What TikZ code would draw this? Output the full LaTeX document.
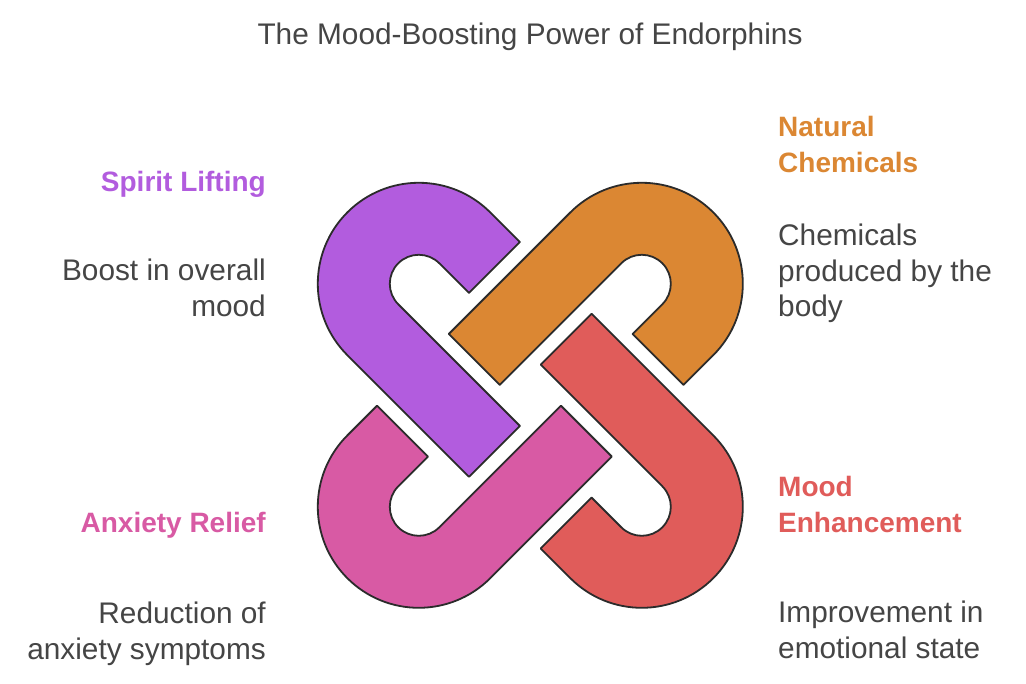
\documentclass[tikz,border=0pt]{standalone}
\usepackage{fontspec}
\setmainfont{Liberation Sans}
\usepackage{tikz}
\usetikzlibrary{positioning}
\definecolor{spiritcol}{HTML}{B25CDE}
\definecolor{naturalcol}{HTML}{DB8733}
\definecolor{moodcol}{HTML}{E05C5A}
\definecolor{anxietycol}{HTML}{D85AA4}
\definecolor{bodytext}{HTML}{454545}
\definecolor{rimcol}{HTML}{2B2B2B}

\tikzset{
  hook/.style={draw=rimcol, line width=1.8pt, line join=round},
  heading/.style={font=\fontsize{28}{35.5}\selectfont\bfseries, inner sep=0pt},
  blurb/.style={font=\fontsize{29.8}{35.8}\selectfont, text=bodytext, inner sep=0pt},
}

\begin{document}
\begin{tikzpicture}[x=1pt, y=1pt]
\useasboundingbox (0,0) rectangle (1026,684);

\node[blurb] (title) at (530,647) {The Mood-Boosting Power of Endorphins};

% four hooks, each one turned a quarter further round the middle
\foreach \ang/\col in {-45/spiritcol, -135/naturalcol, -225/moodcol, 45/anxietycol} {
  \begin{scope}[shift={(530.3,288.7)}, rotate=\ang]
    \draw[hook, fill=\col] (-115.7,101) -- (-157.7,101)
      arc[start angle=90, end angle=270, radius=101]
      -- (14.3,-101) -- (14.3,-29) -- (-157.7,-29)
      arc[start angle=270, end angle=90, radius=29]
      -- (-115.7,29) -- cycle;
  \end{scope}
}

% left side
\node[heading, text=spiritcol, anchor=east] (spirit) at (266,500) {Spirit Lifting};
\node[blurb, align=right, anchor=east] (spiritnote) at (266,396) {Boost in overall\\mood};
\node[heading, text=anxietycol, anchor=east] (anxiety) at (266,159) {Anxiety Relief};
\node[blurb, align=right, anchor=east] (anxietynote) at (266,50.5) {Reduction of\\anxiety symptoms};

% right side
\node[heading, text=naturalcol, align=left, anchor=west] (natural) at (778,539.5) {Natural\\Chemicals};
\node[blurb, align=left, anchor=west] (naturalnote) at (778,410.5) {Chemicals\\produced by the\\body};
\node[heading, text=moodcol, align=left, anchor=west] (mood) at (778,179.5) {Mood\\Enhancement};
\node[blurb, align=left, anchor=west] (moodnote) at (778,54) {Improvement in\\emotional state};

\end{tikzpicture}
\end{document}
